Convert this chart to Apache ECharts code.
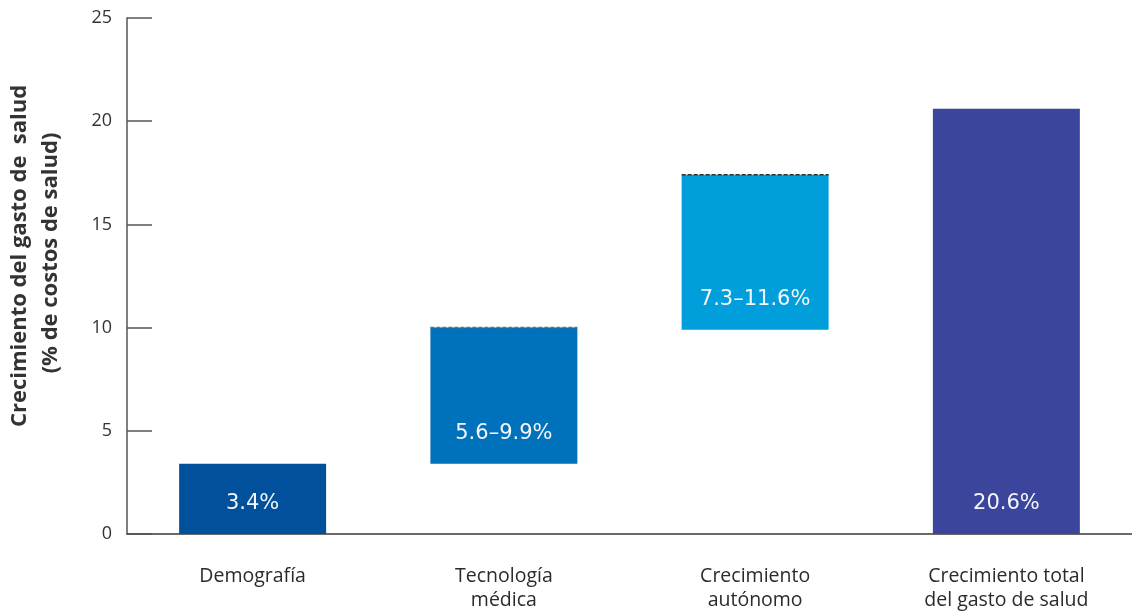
<!DOCTYPE html>
<html>
<head>
<meta charset="utf-8">
<script src="https://cdn.jsdelivr.net/npm/echarts@6/dist/echarts.min.js"></script>
<style>
  html, body { margin: 0; padding: 0; background: #fff; }
  #chart { width: 1132px; height: 612px; }
</style>
</head>
<body>
<div id="chart"></div>
<script>
// Drivers of health spending growth (waterfall)
const categories = ['Demografía', 'Tecnología\nmédica', 'Crecimiento\nautónomo', 'Crecimiento total\ndel gasto de salud'];
const barBase = [0, 3.4, 9.9, 0];
const barTop = [3.4, 10.0, 17.4, 20.6];
const barLabels = ['3.4%', '5.6–9.9%', '7.3–11.6%', '20.6%'];
const barColors = ['#00509b', '#0071bb', '#009edb', '#3a459b'];
const rangeBar = [false, true, true, false];
const dashColors = [null, '#6f6f6f', '#333333', null];
const yTicks = [0, 5, 10, 15, 20, 25];

const chart = echarts.init(document.getElementById('chart'));

const seriesData = categories.map((c, i) => [i, barBase[i], barTop[i]]);

chart.setOption({
  animation: false,
  grid: { left: 127, top: 18, height: 519, width: 1012, containLabel: false },
  xAxis: {
    type: 'category',
    data: categories,
    boundaryGap: true,
    axisLine: { lineStyle: { color: '#3a3a3a', width: 1.5 } },
    axisTick: { inside: true, length: 13, lineStyle: { color: '#555', width: 1.5 } },
    axisLabel: {
      margin: 30,
      color: '#2b2b2b',
      fontFamily: 'Open Sans',
      fontSize: 19.5,
      lineHeight: 24,
      interval: 0
    }
  },
  yAxis: {
    type: 'value',
    min: yTicks[0],
    max: yTicks[yTicks.length - 1],
    interval: 5,
    axisLine: { show: true, lineStyle: { color: '#555', width: 1.5 } },
    axisTick: { show: true, inside: true, length: 25, lineStyle: { color: '#555', width: 1.5 } },
    splitLine: { show: false },
    axisLabel: {
      margin: 15,
      color: '#333',
      fontFamily: 'Open Sans',
      fontSize: 18
    }
  },
  graphic: [
    {
      type: 'text',
      x: 20, y: 256,
      rotation: Math.PI / 2,
      style: {
        text: 'Crecimiento del gasto de  salud',
        font: 'bold 22px "Open Sans"',
        fill: '#333',
        align: 'center',
        verticalAlign: 'middle'
      }
    },
    {
      type: 'text',
      x: 51, y: 253,
      rotation: Math.PI / 2,
      style: {
        text: '(% de costos de salud)',
        font: 'bold 22px "Open Sans"',
        fill: '#333',
        align: 'center',
        verticalAlign: 'middle'
      }
    }
  ],
  series: [{
    type: 'custom',
    data: seriesData,
    encode: { x: 0, y: [1, 2] },
    renderItem: function (params, api) {
      const i = api.value(0);
      const p0 = api.coord([i, api.value(1)]);
      const p1 = api.coord([i, api.value(2)]);
      const bw = api.size([1, 0])[0] * 0.585;
      const x = p0[0] - bw / 2;
      const children = [{
        type: 'rect',
        shape: { x: x, y: p1[1], width: bw, height: p0[1] - p1[1] },
        style: { fill: barColors[i] }
      }];
      if (rangeBar[i]) {
        children.push({
          type: 'line',
          shape: { x1: x, y1: p1[1], x2: x + bw, y2: p1[1] },
          style: { stroke: dashColors[i], lineWidth: 1.5, lineDash: [4, 2] }
        });
      }
      children.push({
        type: 'text',
        x: p0[0],
        y: p0[1] - 30,
        style: {
          text: barLabels[i],
          fill: '#f4f6fa',
          font: '21px "DejaVu Sans"',
          align: 'center',
          verticalAlign: 'middle'
        }
      });
      return { type: 'group', children: children };
    }
  }]
});
</script>
</body>
</html>
